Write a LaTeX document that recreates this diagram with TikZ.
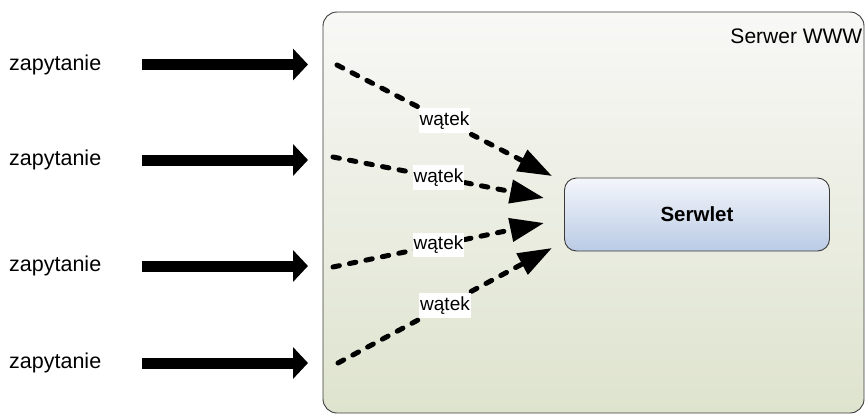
\documentclass[tikz,border=0pt]{standalone}
\usepackage{fontspec}
\setmainfont{Liberation Sans}
\usetikzlibrary{arrows.meta}
\definecolor{srvtop}{HTML}{F8F8F6}
\definecolor{srvbot}{HTML}{DEE3CE}
\definecolor{slttop}{HTML}{F4F6FA}
\definecolor{sltbot}{HTML}{BACBE5}
\definecolor{edge}{HTML}{3A3A3A}
\tikzset{
  server/.style={draw=edge, line width=0.9pt, rounded corners=14pt, top color=srvtop, bottom color=srvbot, minimum width=541pt, minimum height=401pt, inner sep=0pt},
  servlet/.style={draw=edge, line width=0.9pt, rounded corners=12pt, top color=slttop, bottom color=sltbot, minimum width=265pt, minimum height=73pt, font=\fontsize{20.5}{24}\selectfont\bfseries},
  reqlabel/.style={anchor=west, inner sep=0pt, font=\fontsize{21.5}{25}\selectfont},
  reqarrow/.style={line width=11pt, -{Triangle[length=15pt, width=31pt]}},
  thread/.style={line width=5pt, line cap=round, dash pattern=on 6.5pt off 10.3pt, -{Triangle[length=34pt, width=23pt]}},
  threadlabel/.style={fill=white, inner xsep=1pt, inner ysep=3.5pt, font=\fontsize{19}{22}\selectfont, text=black},
  title/.style={anchor=east, inner sep=0pt, font=\fontsize{21}{25}\selectfont}
}
\begin{document}
\begin{tikzpicture}[x=1pt, y=-1pt]
\useasboundingbox (0,0) rectangle (865,415);
\node[server] (srv) at (593.5,212.5) {};
\node[title] (srvtitle) at (862.5,36) {Serwer WWW};
\node[servlet] (slt) at (697,214.5) {Serwlet};

% requests
\foreach \i/\y in {1/64.5, 2/160, 3/266, 4/363} {
  \node[reqlabel] (z\i) at (9,\y) {zapytanie};
  \coordinate (rs\i) at (142,\y);
  \coordinate (re\i) at (308,\y);
  \draw[reqarrow] (rs\i) -- (re\i);
}

% threads
\coordinate (ts1) at (337,65);  \coordinate (te1) at (552,176);
\coordinate (ts2) at (333,157); \coordinate (te2) at (544,198);
\coordinate (ts3) at (333,267); \coordinate (te3) at (544,223);
\coordinate (ts4) at (338,363); \coordinate (te4) at (552,248);
\foreach \i in {1,2,3,4} {
  \draw[thread] (ts\i) -- node[threadlabel] (w\i) {wątek} (te\i);
}
\end{tikzpicture}
\end{document}
